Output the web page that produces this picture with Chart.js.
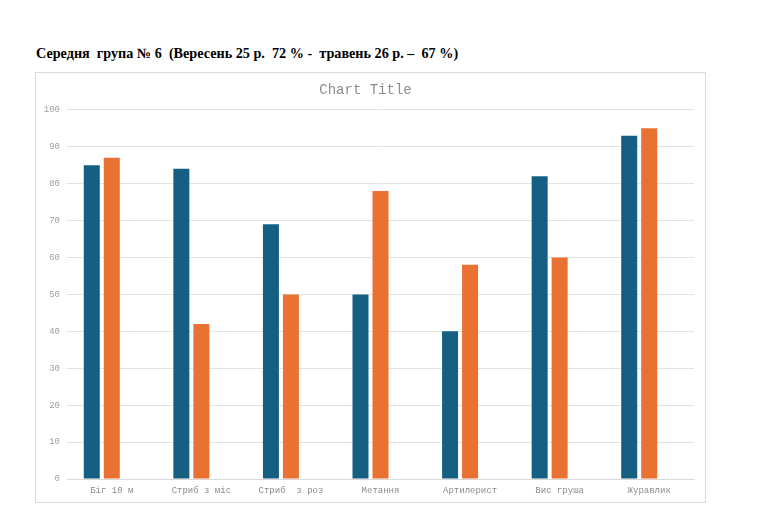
<!DOCTYPE html>
<html>
<head>
<meta charset="utf-8">
<script src="https://cdn.jsdelivr.net/npm/chart.js@4"></script>
<style>
  html,body{margin:0;padding:0;background:#fff;width:768px;height:530px;overflow:hidden;}
  #head{position:absolute;left:36px;top:45px;font-family:"Liberation Serif","Times New Roman",serif;font-weight:bold;font-size:14.2px;color:#000;white-space:pre;}
  #wrap{position:absolute;left:36px;top:73px;width:669px;height:429px;outline:1px solid #d9d9d9;}
</style>
</head>
<body>
<div id="head">Середня  група № 6  (Вересень 25 р.  72 % -  травень 26 р. –  67 %)</div>
<div id="wrap"><canvas id="c"></canvas></div>
<script>
const categories = ["Біг 10 м", "Стриб з міс", "Стриб  з роз", "Метання", "Артилерист", "Вис груша", "Журавлик"];
const septemberValues = [85, 84, 69, 50, 40, 82, 93];
const mayValues = [87, 42, 50, 78, 58, 60, 95];
const emptySeries = [null, null, null, null, null, null, null];
const yTicks = [0, 10, 20, 30, 40, 50, 60, 70, 80, 90, 100];

const mono = '"Liberation Mono","Courier New",monospace';
new Chart(document.getElementById('c'), {
  type: 'bar',
  data: {
    labels: categories,
    datasets: [
      {label: 'Вересень', data: septemberValues, backgroundColor: '#156082'},
      {label: 'Травень', data: mayValues, backgroundColor: '#E97132'},
      {label: 'Ряд 3', data: emptySeries, backgroundColor: '#196B24'}
    ]
  },
  options: {
    responsive: true,
    maintainAspectRatio: false,
    animation: false,
    layout: {padding: {left: 1, right: 11, top: 0, bottom: 0}},
    plugins: {
      legend: {display: false},
      tooltip: {enabled: false},
      title: {display: true, text: 'Chart Title', color: '#8c8c8c',
              font: {family: mono, size: 14, weight: 'normal'}, padding: {top: 9, bottom: 11}}
    },
    datasets: {bar: {categoryPercentage: 0.67, barPercentage: 0.8}},
    scales: {
      x: {
        grid: {display: false, drawTicks: false},
        border: {display: true, color: '#d9d9d9'},
        ticks: {color: '#8c8c8c', font: {family: mono, size: 9}, padding: 6, maxRotation: 0, autoSkip: false},
        afterFit: s => { s.height = 23; }
      },
      y: {
        min: 0, max: 100,
        afterBuildTicks: s => { s.ticks = yTicks.map(v => ({value: v})); },
        grid: {color: '#e3e3e3', drawTicks: false},
        border: {display: false},
        ticks: {color: '#a0a0a0', font: {family: mono, size: 9}, padding: 7},
        afterFit: s => { s.width = 30; }
      }
    }
  }
});
</script>
</body>
</html>
